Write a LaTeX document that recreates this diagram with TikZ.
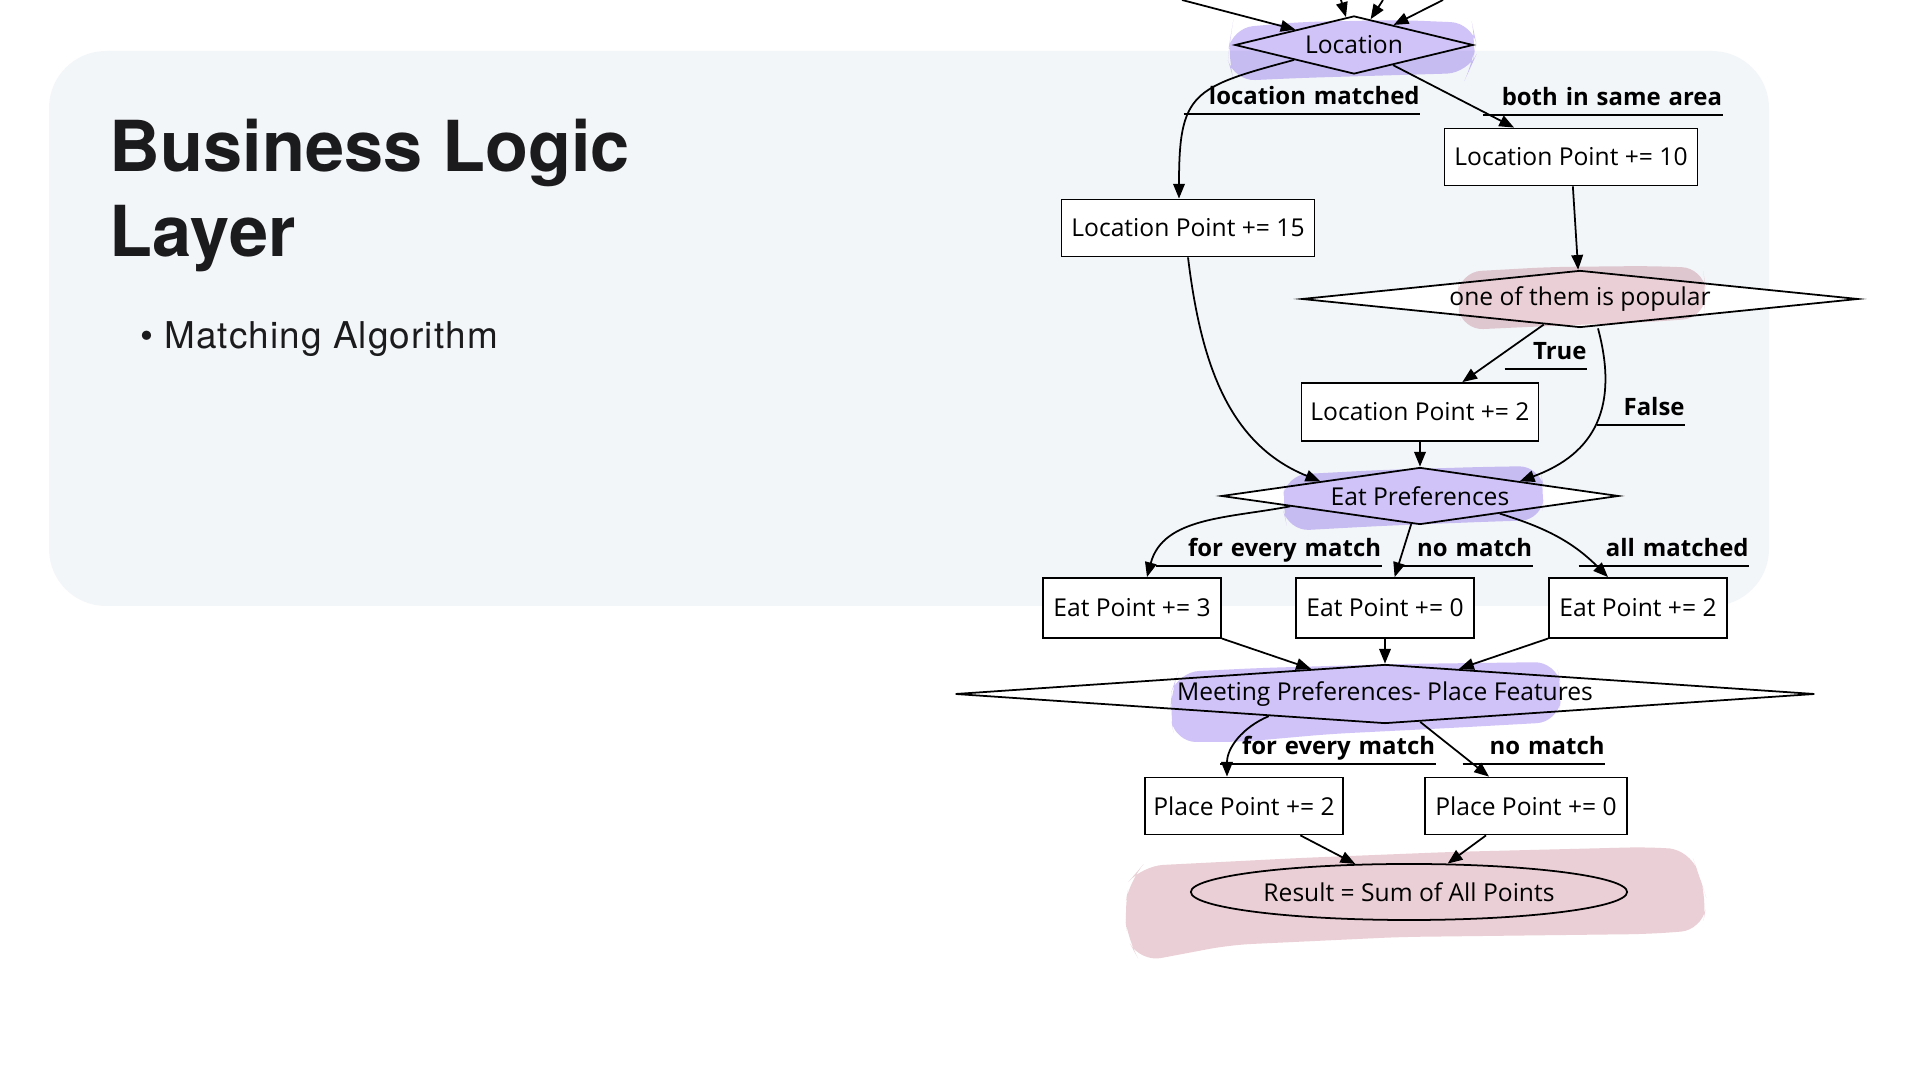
\documentclass[tikz,border=0pt]{standalone}
\usepackage{fontspec}
\setmainfont{Open Sans}
\newfontfamily\headfont{TeX Gyre Heros}
\newfontfamily\itemfont[LetterSpace=3]{TeX Gyre Heros}
\usetikzlibrary{calc, arrows.meta, shapes.geometric}

\definecolor{panel}{HTML}{F3F6F9}
\definecolor{lilac}{HTML}{D0C3F7}
\definecolor{blush}{HTML}{EBCFD6}
\definecolor{ink}{HTML}{1B1B1D}

\begin{document}
\begin{tikzpicture}[x=0.01cm, y=-0.01cm, >={Triangle[length=4.2pt,width=3.3pt]}, line width=0.5pt]
	\tikzstyle{box} = [draw=black, fill=white, rectangle, inner sep=0pt, minimum height=0.57cm, font=\fontsize{7}{8}\selectfont]
	\tikzstyle{decide} = [draw=black, fill=white, diamond, inner sep=0pt, minimum height=0.57cm, font=\fontsize{7}{8}\selectfont]
	\tikzstyle{result} = [draw=black, fill=white, ellipse, inner sep=0pt, font=\fontsize{7}{8}\selectfont]
	\tikzstyle{lbl} = [anchor=south, inner xsep=0pt, inner ysep=0.8pt, text depth=0.3ex, align=right, font=\bfseries\fontsize{6.8}{8}\selectfont, append after command={(\tikzlastnode.south west) edge[-] (\tikzlastnode.south east)}]
	\tikzstyle{brush} = [rounded corners=6]
	
	\useasboundingbox (0,0) rectangle (1920,1080);
	\fill[white] (0,0) rectangle (1920,1080);
	\fill[panel, rounded corners=0.57cm] (49,51) rectangle (1769,606);
	
	% heading
	\node[anchor=base west, inner sep=0pt, text=ink, font=\headfont\bfseries\fontsize{20}{24}\selectfont] at (109,172) (head1) {Business Logic};
	\node[anchor=base west, inner sep=0pt, text=ink, font=\headfont\bfseries\fontsize{20}{24}\selectfont] at (109,257) (head2) {Layer};
	\node[anchor=base west, inner sep=0pt, text=ink, font=\itemfont\fontsize{10.5}{12}\selectfont] at (140,349) (item) {\textbullet\hspace{3pt}Matching Algorithm};
	
	% flowchart
	\node[decide, aspect=4, minimum width=2.38cm, minimum height=0.58cm] at (1354,45) (loc) {Location};
	\node[box, minimum width=2.53cm] at (1571,157) (lpt10) {Location Point += 10};
	\node[box, minimum width=2.53cm] at (1188,228) (lpt15) {Location Point += 15};
	\node[decide, aspect=10, minimum width=5.56cm] at (1580,299) (pop) {one of them is popular};
	\node[box, minimum width=2.37cm, minimum height=0.58cm] at (1420,412) (lpt2) {Location Point += 2};
	\node[decide, aspect=7, minimum width=3.97cm] at (1420,496) (eat) {Eat Preferences};
	\node[box, minimum width=1.78cm, minimum height=0.6cm] at (1132,608) (ept3) {Eat Point += 3};
	\node[box, minimum width=1.78cm, minimum height=0.6cm] at (1385,608) (ept0) {Eat Point += 0};
	\node[box, minimum width=1.78cm, minimum height=0.6cm] at (1638,608) (ept2) {Eat Point += 2};
	\node[decide, aspect=14, minimum width=8.59cm, minimum height=0.59cm] at (1385,694) (meet) {Meeting Preferences- Place Features};
	\node[box, minimum width=1.98cm] at (1244,806) (ppt2) {Place Point += 2};
	\node[box, minimum width=2.02cm] at (1526,806) (ppt0) {Place Point += 0};
	\node[result, minimum width=4.36cm, minimum height=0.56cm] at (1409,892) (res) {Result = Sum of All Points};
	
	\coordinate (in1) at (1182,0);
	\coordinate (in2) at (1341,0);
	\coordinate (in3) at (1383,0);
	\coordinate (in4) at (1443,0);
	
	\path[->]
	(in1)	edge	(loc)
	(in2)	edge	(loc)
	(in3)	edge	(loc)
	(in4)	edge	(loc)
	(loc.south west)	edge[out=195, in=90, looseness=1.5]	($(lpt15.north)+(-9,0)$)
	(loc)	edge	(lpt10)
	(lpt10)	edge	(pop)
	(pop)	edge	(lpt2)
	($(pop.south)+(18,0)$)	edge[out=-75, in=20, looseness=1.2]	(eat.north east)
	(lpt15.south)	edge[out=-83, in=158]	(eat.north west)
	(lpt2)	edge	(eat)
	($(eat.west)!0.35!(eat.south)$)	edge[out=191, in=75]	($(ept3.north)+(15,0)$)
	(eat)	edge	(ept0)
	($(eat.east)!0.6!(eat.south)$)	edge[out=-17, in=135]	($(ept2.north)+(-30,0)$)
	(ept3)	edge	(meet)
	(ept0)	edge	(meet)
	(ept2)	edge	(meet)
	($(meet.west)!0.73!(meet.south)$)	edge[out=203, in=90]	($(ppt2.north)+(-17,0)$)
	(meet)	edge	(ppt0)
	(ppt2)	edge	(res)
	(ppt0)	edge	(res);
	
	% edge labels
	\node[lbl, text width=2.35cm] at (1302,114) (lmatch) {location matched};
	\node[lbl, text width=2.38cm] at (1603,115) (same) {both in same area};
	\node[lbl, text width=0.81cm] at (1546,369) (yes) {True};
	\node[lbl, text width=0.87cm] at (1641,425) (no) {False};
	\node[lbl, text width=2.24cm] at (1269,566) (eatevery) {for every match};
	\node[lbl, text width=1.36cm] at (1464,566) (eatnone) {no match};
	\node[lbl, text width=1.69cm] at (1664,566) (eatall) {all matched};
	\node[lbl, text width=2.14cm] at (1328,764) (meetevery) {for every match};
	\node[lbl, text width=1.41cm] at (1534,764) (meetnone) {no match};
	
	% highlighter strokes
	\begin{scope}[blend mode=multiply]
	\fill[lilac, brush] (1232,28) -- (1300,22) -- (1400,20) -- (1472,23) -- (1476,42) -- (1473,62) -- (1468,73) -- (1400,75) -- (1300,78) -- (1234,81) -- (1228,60) -- (1230,40) -- cycle;
	\fill[blush, brush] (1460,272) -- (1550,267) -- (1650,266) -- (1703,268) -- (1706,292) -- (1704,318) -- (1650,322) -- (1550,326) -- (1462,330) -- (1457,300) -- cycle;
	\fill[lilac, brush] (1286,475) -- (1380,470) -- (1480,467) -- (1540,466) -- (1544,490) -- (1542,520) -- (1480,522) -- (1380,526) -- (1288,531) -- (1282,505) -- cycle;
	\fill[lilac, brush] (1178,672) -- (1260,668) -- (1400,664) -- (1556,662) -- (1562,690) -- (1558,722) -- (1450,728) -- (1330,734) -- (1240,742) -- (1175,742) -- (1170,712) -- (1172,690) -- cycle;
	\fill[blush, brush] (1142,866) -- (1300,858) -- (1450,852) -- (1650,847) -- (1690,850) -- (1700,878) -- (1707,900) -- (1702,930) -- (1650,934) -- (1400,937) -- (1230,945) -- (1140,962) -- (1128,940) -- (1124,910) -- (1130,880) -- cycle;
	\end{scope}
\end{tikzpicture}
\end{document}
